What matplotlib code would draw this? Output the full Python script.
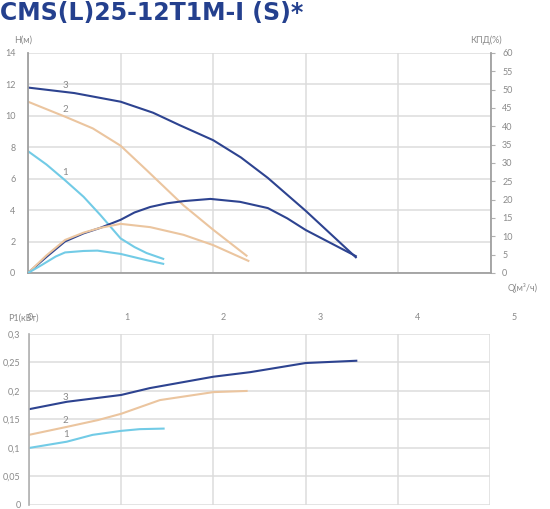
import numpy as np
import matplotlib
matplotlib.use('Agg')
from matplotlib import pyplot as plt

plt.rcParams['font.family'] = ['Lato', 'DejaVu Sans']

# H(Q) curves, m
q_h1 = [0, 0.2, 0.4, 0.6, 0.78, 1.0, 1.15, 1.28, 1.46]
h1 = [7.75, 6.9, 5.9, 4.85, 3.7, 2.2, 1.65, 1.27, 0.9]
q_h2 = [0, 0.42, 0.7, 1.0, 1.28, 1.68, 2.0, 2.36]
h2 = [10.9, 9.9, 9.2, 8.1, 6.55, 4.3, 2.75, 1.1]
q_h3 = [0, 0.5, 1.0, 1.35, 1.64, 2.0, 2.3, 2.59, 3.0, 3.54]
h3 = [11.8, 11.45, 10.9, 10.2, 9.4, 8.45, 7.35, 6.05, 3.95, 1.0]

# efficiency curves, %
q_e1 = [0, 0.15, 0.3, 0.4, 0.6, 0.75, 1.0, 1.28, 1.46]
e1 = [0, 2.2, 4.5, 5.6, 6.0, 6.1, 5.2, 3.5, 2.5]
q_e2 = [0, 0.2, 0.4, 0.6, 0.78, 1.0, 1.32, 1.68, 2.0, 2.38]
e2 = [0, 4.8, 9.0, 11.0, 12.3, 13.4, 12.5, 10.4, 7.6, 3.3]
q_e3 = [0, 0.2, 0.4, 0.6, 0.78, 1.0, 1.15, 1.32, 1.5, 1.68, 1.97, 2.29, 2.59, 2.8, 3.0, 3.54]
e3 = [0, 4.4, 8.6, 10.8, 12.3, 14.5, 16.5, 18.0, 19.0, 19.6, 20.2, 19.4, 17.7, 14.9, 11.7, 4.6]

# power curves, kW
q_p1 = [0, 0.41, 0.69, 1.0, 1.2, 1.46]
p1 = [0.1, 0.111, 0.123, 0.13, 0.133, 0.134]
q_p2 = [0, 0.41, 0.75, 1.0, 1.42, 2.0, 2.36]
p2 = [0.123, 0.137, 0.149, 0.16, 0.184, 0.198, 0.2]
q_p3 = [0, 0.41, 1.0, 1.31, 2.0, 2.4, 3.0, 3.55]
p3 = [0.168, 0.181, 0.193, 0.205, 0.225, 0.233, 0.249, 0.253]

h_ticks = [0, 2, 4, 6, 8, 10, 12, 14]
e_ticks = list(range(0, 65, 5))
p_ticks = [0, 0.05, 0.1, 0.15, 0.2, 0.25, 0.3]
p_labels = ['0', '0,05', '0,1', '0,15', '0,2', '0,25', '0,3']
q_labels = ['0', '1', '2', '3', '4', '5']

c1 = '#72cbe6'
c2 = '#ebc59f'
c3 = '#2d4390'
grid_c = '#dcdcdc'
txt_c = '#8a8a8a'

fig = plt.figure(figsize=(5.5, 5.09), dpi=100)

fig.text(0.0, 0.975, 'CMS(L)25-12T1M-I (S)*', fontsize=17, fontweight='heavy',
         color='#24408e', va='center', ha='left', family='DejaVu Sans')

# top chart
ax = fig.add_axes([0.0509, 0.4637, 0.8418, 0.4322])
ax.set_xlim(0, 5)
ax.set_ylim(0, 14)
ax.set_yticks(h_ticks)
ax.set_xticks(range(6))
ax.grid(True, color=grid_c, lw=1.1)
ax.set_axisbelow(True)
ax.tick_params(axis='x', length=0, labelbottom=False)
ax.tick_params(axis='y', length=0, labelsize=6.5, labelcolor=txt_c, pad=9)
for s in ['top', 'right']:
    ax.spines[s].set_visible(False)
for s in ['left', 'bottom']:
    ax.spines[s].set_color('#a0a0a0')
    ax.spines[s].set_linewidth(1.3)

ax.plot(q_h3, h3, color=c3, lw=1.5)
ax.plot(q_h2, h2, color=c2, lw=1.5)
ax.plot(q_h1, h1, color=c1, lw=1.5)

axr = ax.twinx()
axr.set_ylim(0, 60)
axr.set_yticks(e_ticks)
axr.tick_params(axis='y', length=3, color='#b0b0b0', labelsize=6.5, labelcolor=txt_c, pad=5)
for s in ['top', 'left', 'bottom']:
    axr.spines[s].set_visible(False)
axr.spines['right'].set_color('#a0a0a0')
axr.spines['right'].set_linewidth(1.3)
axr.plot(q_e3, e3, color=c3, lw=1.5)
axr.plot(q_e2, e2, color=c2, lw=1.5)
axr.plot(q_e1, e1, color=c1, lw=1.5)

ax.text(0.4, 11.9, '3', color=txt_c, fontsize=7, ha='center', va='center')
ax.text(0.4, 10.4, '2', color=txt_c, fontsize=7, ha='center', va='center')
ax.text(0.4, 6.4, '1', color=txt_c, fontsize=7, ha='center', va='center')

ax.text(-0.03, 1.06, 'H(м)', transform=ax.transAxes, color=txt_c, fontsize=6.5, ha='left', va='center')
ax.text(0.955, 1.06, 'КПД(%)', transform=ax.transAxes, color=txt_c, fontsize=6.5, ha='left', va='center')
ax.text(1.035, -0.07, 'Q(м³/ч)', transform=ax.transAxes, color=txt_c, fontsize=6.5, ha='left', va='center')

# bottom chart
bx = fig.add_axes([0.0527, 0.0079, 0.8382, 0.336])
bx.set_xlim(0, 5)
bx.set_ylim(0, 0.3)
bx.set_xticks(range(6))
bx.set_yticks(p_ticks)
bx.set_yticklabels(p_labels)
bx.grid(True, color=grid_c, lw=1.1)
bx.set_axisbelow(True)
bx.tick_params(axis='x', length=0, labelbottom=False)
bx.tick_params(axis='y', length=0, labelsize=6.5, labelcolor=txt_c, pad=6)
for s in ['top', 'right', 'bottom']:
    bx.spines[s].set_visible(False)
bx.spines['left'].set_color('#b0b0b0')
bx.spines['left'].set_linewidth(1.2)

bx.plot(q_p3, p3, color=c3, lw=1.5)
bx.plot(q_p2, p2, color=c2, lw=1.5)
bx.plot(q_p1, p1, color=c1, lw=1.5)

bx.text(0.4, 0.188, '3', color=txt_c, fontsize=7, ha='center', va='center')
bx.text(0.4, 0.148, '2', color=txt_c, fontsize=7, ha='center', va='center')
bx.text(0.4, 0.123, '1', color=txt_c, fontsize=7, ha='center', va='center')

# Q tick labels drawn between the charts, spaced a bit wider than the grid
for i, lab in enumerate(q_labels):
    bx.text(i * 1.05 + 0.01, 1.095, lab, transform=bx.get_xaxis_transform(),
            color=txt_c, fontsize=6.5, ha='center', va='center', clip_on=False)
bx.text(-0.045, 1.095, 'P1(кВт)', transform=bx.transAxes, color=txt_c, fontsize=6.5,
        ha='left', va='center')

fig.savefig('out.png', dpi=100)
